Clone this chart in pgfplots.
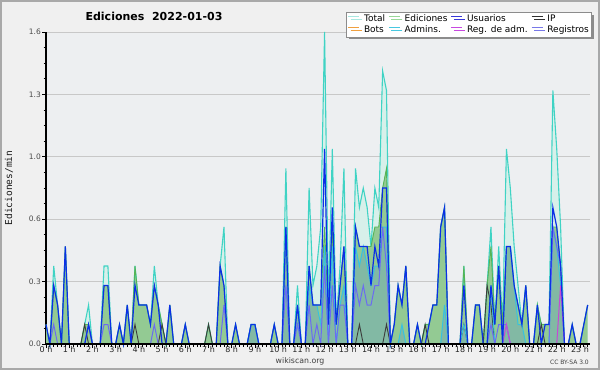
\documentclass[border=0pt]{standalone}
\usepackage{fontspec}
\setmainfont{DejaVu Sans}
\newfontfamily\monofont{DejaVu Sans Mono}
\usepackage{pgfplots}
\pgfplotsset{compat=1.18}
\usepackage{pgfplotstable}
\usetikzlibrary{shadows}
\definecolor{bgouter}{HTML}{F0F0F0}
\definecolor{plotbg}{HTML}{EDEFF1}
\definecolor{gridc}{HTML}{C8C8C8}
\definecolor{framec}{HTML}{A9A9A9}
\definecolor{totalfill}{HTML}{D7F0EA}
\definecolor{totalline}{HTML}{3FD3C4}
\definecolor{edfill}{HTML}{93CA93}
\definecolor{edline}{HTML}{55B455}
\definecolor{admfill}{HTML}{82B9A4}
\definecolor{admline}{HTML}{38C2DF}
\definecolor{usline}{HTML}{0B2FE6}
\definecolor{ipline}{HTML}{3C3C3C}
\definecolor{regline}{HTML}{6B6BF2}
\definecolor{regadm}{HTML}{C847D6}
\definecolor{botsc}{HTML}{F0A040}
\definecolor{lgtotal}{HTML}{A8E8E0}
\definecolor{lged}{HTML}{98D898}
\definecolor{lgus}{HTML}{3838D8}
\definecolor{lgip}{HTML}{303030}
\definecolor{lgadm}{HTML}{48C8E0}
\definecolor{lgregadm}{HTML}{C848E0}
\definecolor{lgreg}{HTML}{7878E8}

\pgfplotstableread{
i T E U I A R M
0 0.1 0.1 0.1 0 0 0 0
1 0 0 0 0 0 0 0
2 0.4 0.3 0.3 0 0 0.1 0
3 0.2 0.2 0.2 0 0 0 0
4 0 0 0 0 0 0 0
5 0.5 0.5 0.5 0 0 0 0
6 0 0 0 0 0 0 0
7 0 0 0 0 0 0 0
8 0 0 0 0 0 0 0
9 0 0 0 0 0 0 0
10 0.1 0.1 0 0.1 0 0 0
11 0.2 0.1 0.1 0 0 0.1 0
12 0 0 0 0 0 0 0
13 0 0 0 0 0 0 0
14 0 0 0 0 0 0 0
15 0.4 0.3 0.3 0 0 0.1 0
16 0.4 0.3 0.3 0 0 0.1 0
17 0 0 0 0 0 0 0
18 0 0 0 0 0 0 0
19 0.1 0.1 0.1 0 0 0 0
20 0 0 0 0 0 0 0
21 0.2 0.2 0.2 0 0 0 0
22 0 0 0 0 0 0 0
23 0.4 0.4 0.3 0.1 0 0 0
24 0.2 0.2 0.2 0 0 0 0
25 0.2 0.2 0.2 0 0 0 0
26 0.2 0.2 0.2 0 0 0 0
27 0.1 0.1 0.1 0 0 0 0
28 0.4 0.3 0.3 0 0 0.1 0
29 0.2 0.2 0.2 0 0 0 0
30 0.1 0.1 0 0.1 0 0 0
31 0 0 0 0 0 0 0
32 0.2 0.2 0.2 0 0 0 0
33 0 0 0 0 0 0 0
34 0 0 0 0 0 0 0
35 0 0 0 0 0 0 0
36 0.1 0.1 0.1 0 0 0 0
37 0 0 0 0 0 0 0
38 0 0 0 0 0 0 0
39 0 0 0 0 0 0 0
40 0 0 0 0 0 0 0
41 0 0 0 0 0 0 0
42 0.1 0.1 0 0.1 0 0 0
43 0 0 0 0 0 0 0
44 0 0 0 0 0 0 0
45 0.4 0.4 0.4 0 0 0 0
46 0.6 0.3 0.3 0 0 0.2 0
47 0 0 0 0 0 0 0
48 0 0 0 0 0 0 0
49 0.1 0.1 0.1 0 0 0 0
50 0 0 0 0 0 0 0
51 0 0 0 0 0 0 0
52 0 0 0 0 0 0 0
53 0.1 0.1 0.1 0 0.1 0 0
54 0.1 0.1 0.1 0 0.1 0 0
55 0 0 0 0 0 0 0
56 0 0 0 0 0 0 0
57 0 0 0 0 0 0 0
58 0 0 0 0 0 0 0
59 0.1 0.1 0.1 0 0 0 0
60 0 0 0 0 0 0 0
61 0 0 0 0 0 0 0
62 0.9 0.6 0.6 0 0.6 0.3 0
63 0 0 0 0 0 0 0
64 0 0 0 0 0 0 0
65 0.3 0.2 0.2 0 0.2 0.1 0
66 0 0 0 0 0 0 0
67 0 0 0 0 0 0 0
68 0.8 0.4 0.4 0 0.3 0.2 0
69 0.3 0.2 0.2 0 0.2 0 0
70 0.4 0.2 0.2 0 0.2 0.1 0
71 0.6 0.2 0.2 0 0.1 0 0
72 1.6 0.6 1.0 0 0.5 0.4 0
73 0.2 0.1 0.1 0 0 0 0
74 1.0 0.6 0.7 0 0.5 0.3 0
75 0.1 0.1 0.1 0 0 0 0
76 0.4 0.3 0.3 0 0.2 0.2 0
77 0.9 0.5 0.5 0 0.3 0.2 0
78 0 0 0 0 0 0 0
79 0 0 0 0 0 0 0
80 0.9 0.6 0.6 0 0.5 0.3 0
81 0.7 0.5 0.5 0.1 0.4 0.2 0
82 0.8 0.5 0.5 0 0.5 0.3 0
83 0.7 0.5 0.5 0 0.4 0.2 0
84 0.5 0.5 0.3 0 0.3 0.2 0
85 0.8 0.6 0.5 0 0.4 0.3 0
86 0.7 0.6 0.4 0 0.4 0.3 0
87 1.4 0.8 0.8 0 0.6 0.6 0
88 1.3 0.9 0.8 0.1 0.6 0.4 0
89 0 0 0 0 0 0 0
90 0.1 0.1 0.1 0 0 0 0
91 0.3 0.3 0.3 0 0 0 0
92 0.2 0.2 0.2 0 0.1 0 0
93 0.4 0.4 0.4 0 0 0 0
94 0 0 0 0 0 0 0
95 0 0 0 0 0 0 0
96 0.1 0.1 0.1 0 0 0 0
97 0 0 0 0 0 0 0
98 0.1 0.1 0 0.1 0 0 0
99 0.1 0.1 0.1 0 0 0 0
100 0.2 0.2 0.2 0 0 0 0
101 0.2 0.2 0.2 0 0 0 0
102 0.6 0.6 0.6 0 0 0 0
103 0.7 0.7 0.7 0 0.2 0 0
104 0 0 0 0 0 0 0
105 0 0 0 0 0 0 0
106 0 0 0 0 0 0 0
107 0 0 0 0 0 0 0
108 0.4 0.4 0.3 0.1 0.1 0 0
109 0 0 0 0 0 0 0
110 0 0 0 0 0 0 0
111 0.2 0.2 0.2 0 0 0 0
112 0.2 0.2 0.2 0 0 0 0
113 0 0 0 0 0 0 0
114 0.3 0.3 0 0.3 0 0 0
115 0.6 0.5 0.3 0.2 0.3 0.1 0
116 0.1 0.1 0.1 0 0 0 0
117 0.5 0.4 0.4 0 0 0.1 0
118 0.1 0.1 0 0 0 0.1 0
119 1.0 0.5 0.5 0 0.5 0.1 0.1
120 0.8 0.5 0.5 0 0.5 0 0
121 0.5 0.3 0.3 0 0.3 0 0
122 0.3 0.2 0.2 0 0.1 0 0
123 0.1 0.1 0.1 0 0.1 0 0
124 0.3 0.3 0.3 0 0 0 0
125 0 0 0 0 0 0 0
126 0 0 0 0 0 0 0
127 0.2 0.2 0.2 0 0 0 0
128 0.1 0.1 0 0.1 0 0 0
129 0.1 0.1 0.1 0 0 0 0
130 0.1 0.1 0.1 0 0 0 0
131 1.3 0.6 0.7 0 0.6 0.6 0
132 1.0 0.6 0.6 0 0.5 0.5 0
133 0.6 0.4 0.4 0 0.3 0.4 0.3
134 0 0 0 0 0 0 0
135 0 0 0 0 0 0 0
136 0.1 0.1 0.1 0 0 0 0
137 0 0 0 0 0 0 0
138 0 0 0 0 0 0 0
139 0.1 0.1 0.1 0 0 0 0
140 0.2 0.2 0.2 0 0 0 0
}\data

\begin{document}
\begin{tikzpicture}[x=1bp,y=1bp]
\useasboundingbox (0,0) rectangle (600,370);
\fill[bgouter] (0,0) rectangle (600,370);
\draw[framec, line width=2bp] (1,1) rectangle (599,369);
\begin{axis}[
  at={(46bp,26bp)}, anchor=south west,
  scale only axis, width=544bp, height=312bp,
  xmin=0, xmax=140.6, ymin=0, ymax=1.6,
  clip=false,
  axis background/.style={fill=plotbg},
  axis x line*=bottom, axis y line*=left,
  axis line style={-, black, line width=1.2bp},
  tick align=outside,
  major tick length=4bp, minor tick length=2.5bp,
  tick style={black, line width=0.8bp},
  xtick={0,6,...,138},
  xticklabels={0 h,1 h,2 h,3 h,4 h,5 h,6 h,7 h,8 h,9 h,10 h,11 h,12 h,13 h,14 h,15 h,16 h,17 h,18 h,19 h,20 h,21 h,22 h,23 h},
  minor xtick={0,1,...,140},
  ytick={0,0.32,0.64,0.96,1.28,1.6},
  yticklabels={0.0,0.3,0.6,1.0,1.3,1.6},
  minor ytick={0.08,0.16,0.24,0.4,0.48,0.56,0.72,0.8,0.88,1.04,1.12,1.2,1.36,1.44,1.52},
  ymajorgrids=true,
  major grid style={gridc, line width=0.8bp},
  /pgf/number format/assume math mode=true,
  xticklabel style={font=\fontsize{8bp}{9bp}\selectfont, text=black!85, inner sep=0pt, yshift=1.5bp},
  yticklabel style={font=\fontsize{7.5bp}{9bp}\selectfont, text=black!70, inner sep=1bp},
  legend columns=4,
  legend style={at={(0.5515,1.0641)}, anchor=north west, draw=black!45, fill=white,
    line width=0.6bp,
    font=\fontsize{9bp}{10bp}\selectfont, inner sep=1.5bp,
    nodes={inner sep=1.2bp, text height=6.6bp, text depth=1.8bp},
    /tikz/every odd column/.append style={column sep=3bp},
    /tikz/every even column/.append style={column sep=2.2bp},
    drop shadow={shadow xshift=2.5bp, shadow yshift=-2.5bp, fill=black!45, opacity=1},
    cells={anchor=west}},
  legend image code/.code={\draw[#1, line width=1bp] (0bp,2.4bp) -- (11bp,2.4bp);},
]
\addlegendimage{lgtotal}\addlegendentry{Total}
\addlegendimage{lged}\addlegendentry{Ediciones}
\addlegendimage{lgus}\addlegendentry{Usuarios}
\addlegendimage{lgip}\addlegendentry{IP}
\addlegendimage{botsc}\addlegendentry{Bots}
\addlegendimage{lgadm}\addlegendentry{Admins.}
\addlegendimage{lgregadm}\addlegendentry{Reg. de adm.}
\addlegendimage{lgreg}\addlegendentry{Registros}

\addplot[forget plot, fill=totalfill, draw=none] table[x=i,y=T]{\data} \closedcycle;
\addplot[forget plot, fill=edfill, draw=none] table[x=i,y=E]{\data} \closedcycle;
\addplot[forget plot, fill=admfill, draw=none] table[x=i,y=A]{\data} \closedcycle;
\addplot[forget plot, totalline, line width=1.1bp] table[x=i,y=T]{\data};
\addplot[forget plot, edline, line width=0.9bp] table[x=i,y=E]{\data};
\addplot[forget plot, ipline, line width=0.9bp] table[x=i,y=I]{\data};
\addplot[forget plot, admline, line width=1bp] table[x=i,y=A]{\data};
\addplot[forget plot, regline, line width=1bp] table[x=i,y=R]{\data};
\addplot[forget plot, regadm, line width=1bp] table[x=i,y=M]{\data};
\addplot[forget plot, usline, line width=1.2bp] table[x=i,y=U]{\data};
\draw[black, line width=1.2bp] (rel axis cs:0,0) -- (rel axis cs:1,0);
\end{axis}
\node[font=\bfseries\fontsize{11bp}{13bp}\selectfont] at (154,353.5) {Ediciones\ \ 2022-01-03};
\node[rotate=90, font=\monofont\fontsize{9.5bp}{11bp}\selectfont, text=black!90] at (9,182) {Ediciones/min};
\node[font=\fontsize{7.8bp}{9bp}\selectfont, text=black!75] at (300,8.5) {wikiscan.org};
\node[font=\fontsize{6bp}{7bp}\selectfont, text=black!75, anchor=east, inner sep=0pt] at (589,7.5) {CC BY-SA 3.0};
\end{tikzpicture}
\end{document}
